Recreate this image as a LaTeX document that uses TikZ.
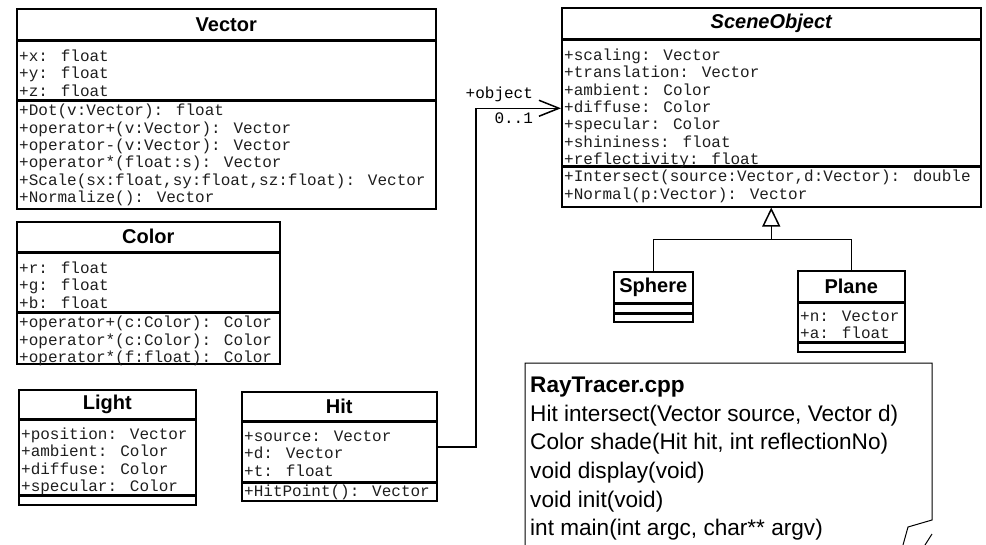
\documentclass[tikz,border=0pt]{standalone}
\usepackage{fontspec}
\setmainfont{Liberation Sans}
\newfontfamily\codefamily{Liberation Mono}
\usetikzlibrary{positioning,arrows.meta}

\definecolor{codegray}{HTML}{1E1E1E}
\newcommand\codefont{\codefamily\fontsize{16}{17.4}\selectfont}
\newcommand\headfont{\bfseries\fontsize{20}{24}\selectfont}
\newcommand\notefont{\fontsize{22.6}{28.6}\selectfont}

\tikzset{
  classhead/.style={draw, line width=1.5pt, anchor=north west, inner sep=0pt, font=\headfont},
  classpart/.style={draw, line width=1.5pt, anchor=north west, inner sep=0pt},
  members/.style={anchor=north west, inner sep=0pt, align=left, font=\codefont, text=codegray},
  notetext/.style={anchor=north west, inner sep=0pt, align=left, font=\notefont},
}

\begin{document}
\begin{tikzpicture}[x=1pt, y=-1pt]
  \useasboundingbox (0,0) rectangle (986,544);

  % Vector
  \node (vecT) [classhead, minimum width=419pt, minimum height=31pt] at (16,8) {Vector};
  \node (vecA) [classpart, minimum width=419pt, minimum height=58pt] at (vecT.south west) {};
  \node (vecM) [classpart, minimum width=419pt, minimum height=108pt] at (vecA.south west) {};
  \node (vecAtxt) [members] at ([xshift=3pt, yshift=-9pt]vecA.north west) {+x: float\\+y: float\\+z: float};
  \node (vecMtxt) [members] at ([xshift=3pt, yshift=-4pt]vecM.north west) {+Dot(v:Vector): float\\+operator+(v:Vector): Vector\\+operator-(v:Vector): Vector\\+operator*(float:s): Vector\\+Scale(sx:float,sy:float,sz:float): Vector\\+Normalize(): Vector};

  % Color
  \node (colT) [classhead, minimum width=263pt, minimum height=30pt] at (16,221) {Color};
  \node (colA) [classpart, minimum width=263pt, minimum height=58pt] at (colT.south west) {};
  \node (colM) [classpart, minimum width=263pt, minimum height=51pt] at (colA.south west) {};
  \node (colAtxt) [members] at ([xshift=3pt, yshift=-9pt]colA.north west) {+r: float\\+g: float\\+b: float};
  \node (colMtxt) [members] at ([xshift=3pt, yshift=-4pt]colM.north west) {+operator+(c:Color): Color\\+operator*(c:Color): Color\\+operator*(f:float): Color};

  % Light
  \node (lightT) [classhead, minimum width=177pt, minimum height=29pt] at (18,389) {Light};
  \node (lightA) [classpart, minimum width=177pt, minimum height=74pt] at (lightT.south west) {};
  \node (lightM) [classpart, minimum width=177pt, minimum height=9pt] at (lightA.south west) {};
  \node (lightAtxt) [members] at ([xshift=3pt, yshift=-8pt]lightA.north west) {+position: Vector\\+ambient: Color\\+diffuse: Color\\+specular: Color};

  % Hit
  \node (hitT) [classhead, minimum width=195pt, minimum height=29pt] at (241,391) {Hit};
  \node (hitA) [classpart, minimum width=195pt, minimum height=59pt] at (hitT.south west) {};
  \node (hitM) [classpart, minimum width=195pt, minimum height=18pt] at (hitA.south west) {};
  \node (hitAtxt) [members] at ([xshift=3pt, yshift=-9pt]hitA.north west) {+source: Vector\\+d: Vector\\+t: float};
  \node (hitMtxt) [members] at ([xshift=3pt, yshift=-3pt]hitM.north west) {+HitPoint(): Vector};

  % SceneObject
  \node (sceneT) [classhead, minimum width=419pt, minimum height=31pt] at (561,7) {\itshape SceneObject};
  \node (sceneA) [classpart, minimum width=419pt, minimum height=125pt] at (sceneT.south west) {};
  \node (sceneM) [classpart, minimum width=419pt, minimum height=40pt] at (sceneA.south west) {};
  \node (sceneAtxt) [members] at ([xshift=3pt, yshift=-9pt]sceneA.north west) {+scaling: Vector\\+translation: Vector\\+ambient: Color\\+diffuse: Color\\+specular: Color\\+shininess: float\\+reflectivity: float};
  \node (sceneMtxt) [members] at ([xshift=3pt, yshift=-4pt]sceneM.north west) {+Intersect(source:Vector,d:Vector): double\\+Normal(p:Vector): Vector};

  % Sphere and Plane
  \node (sphereT) [classhead, minimum width=79pt, minimum height=31pt] at (613,271) {Sphere};
  \node (sphereA) [classpart, minimum width=79pt, minimum height=8pt] at (sphereT.south west) {};
  \node (sphereM) [classpart, minimum width=79pt, minimum height=8pt] at (sphereA.south west) {};

  \node (planeT) [classhead, minimum width=107pt, minimum height=31pt] at (797,270) {Plane};
  \node (planeA) [classpart, minimum width=107pt, minimum height=38pt] at (planeT.south west) {};
  \node (planeM) [classpart, minimum width=107pt, minimum height=9pt] at (planeA.south west) {};
  \node (planeAtxt) [members] at ([xshift=3pt, yshift=-8pt]planeA.north west) {+n: Vector\\+a: float};

  % generalization
  \coordinate (genjoint) at ([yshift=-32pt]sceneM.south);
  \draw[line width=1.5pt] (sphereT.north) |- (genjoint) -| (planeT.north);
  \draw[line width=1.5pt, -{Triangle[open, length=19pt, width=18pt]}] (genjoint) -- (sceneM.south);

  % association Hit -> SceneObject
  \coordinate (bend) at (476,300);
  \draw[line width=1.5pt, -{Straight Barb[length=20pt, width=16pt]}] ([yshift=5pt]hitA.east) -| (bend) |- ([yshift=-5.5pt]sceneA.west)
    node[at end, anchor=south east, xshift=-24pt, yshift=2pt, font=\codefont] (objrole) {+object}
    node[at end, anchor=north east, xshift=-24pt, font=\codefont] (objmult) {0..1};

  % note
  \draw[line width=1pt] (525,545) -- (525,363) -- (932,363) -- (932,520) -- (908,527) -- (903,545);
  \draw[line width=1pt] (932,534) -- (925,545);
  \node (notebody) [notetext] at (530,377) {\textbf{RayTracer.cpp}\\Hit intersect(Vector source, Vector d)\\Color shade(Hit hit, int reflectionNo)\\void display(void)\\void init(void)\\int main(int argc, char** argv)};
\end{tikzpicture}
\end{document}
